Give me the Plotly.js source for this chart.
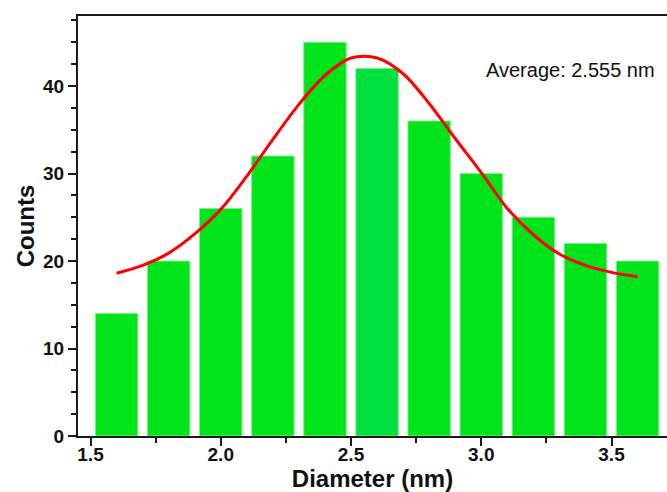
<!DOCTYPE html>
<html>
<head>
<meta charset="utf-8">
<script src="https://cdn.plot.ly/plotly-3.0.1.min.js"></script>
<style>html,body{margin:0;padding:0;background:#fff;}#chart{width:667px;height:492px;}</style>
</head>
<body>
<div id="chart"></div>
<script>
// Histogram bins (bin centres, nm) and counts
const diameters = [1.6, 1.8, 2.0, 2.2, 2.4, 2.6, 2.8, 3.0, 3.2, 3.4, 3.6];
const counts    = [14, 20, 26, 32, 45, 42, 36, 30, 25, 22, 20];

// Fitted curve points
const fitX = [1.6, 1.7, 1.8, 1.9, 2.0, 2.1, 2.2, 2.3, 2.4, 2.5, 2.6, 2.7, 2.8, 2.9, 3.0, 3.1, 3.2, 3.3, 3.4, 3.5, 3.6];
const fitY = [18.6, 19.5, 20.9, 23.1, 25.9, 29.7, 33.9, 37.9, 41.2, 43.2, 43.2, 41.4, 38.0, 34.0, 30.1, 26.0, 23.0, 20.8, 19.5, 18.7, 18.2];

const annotationText = "Average: 2.555 nm";

const barColors = diameters.map((d, i) => i === 5 ? "#00E03E" : "#00E51A");

const axisColor = "#1a1a1a";
const font = "Liberation Sans, Arial, sans-serif";

const data = [
  {
    type: "bar",
    x: diameters,
    y: counts,
    width: 0.163,
    marker: { color: barColors, line: { color: "#80EE8C", width: 1 } },
    hoverinfo: "skip"
  },
  {
    type: "scatter",
    mode: "lines",
    x: fitX,
    y: fitY,
    line: { color: "#FF0000", width: 3, shape: "spline", smoothing: 0.9 },
    hoverinfo: "skip"
  }
];

const layout = {
  width: 667,
  height: 492,
  margin: { l: 78, r: 0, t: 16, b: 56 },
  paper_bgcolor: "#fff",
  plot_bgcolor: "#fff",
  showlegend: false,
  bargap: 0,
  xaxis: {
    range: [1.452, 3.713],
    tick0: 1.5,
    dtick: 0.5,
    tickformat: ".1f",
    ticks: "outside",
    ticklen: 8,
    tickwidth: 2,
    tickcolor: axisColor,
    ticklabelstandoff: -8,
    minor: { dtick: 0.25, ticks: "outside", ticklen: 5, tickwidth: 2, tickcolor: axisColor },
    showline: true,
    linecolor: axisColor,
    linewidth: 2,
    mirror: true,
    showgrid: false,
    zeroline: false,
    tickfont: { family: font, size: 19, color: "#111", weight: "bold" },
    title: { text: "<b>Diameter (nm)</b>", font: { family: font, size: 24, color: "#111" }, standoff: 18 }
  },
  yaxis: {
    range: [0, 48],
    tick0: 0,
    dtick: 10,
    ticks: "outside",
    ticklen: 8,
    tickwidth: 2,
    tickcolor: axisColor,
    minor: { dtick: 2.5, ticks: "outside", ticklen: 5, tickwidth: 2, tickcolor: axisColor },
    showline: true,
    linecolor: axisColor,
    linewidth: 2,
    showgrid: false,
    zeroline: false,
    tickfont: { family: font, size: 19, color: "#111", weight: "bold" },
    title: { text: "<b>Counts</b>", font: { family: font, size: 24, color: "#111" }, standoff: 2 }
  },
  annotations: [
    {
      x: 3.341, y: 41.8, xref: "x", yref: "y",
      text: annotationText,
      showarrow: false,
      xanchor: "center", yanchor: "middle",
      font: { family: font, size: 20, color: "#111" }
    }
  ]
};

Plotly.newPlot("chart", data, layout, { displayModeBar: false, staticPlot: true });
</script>
</body>
</html>
